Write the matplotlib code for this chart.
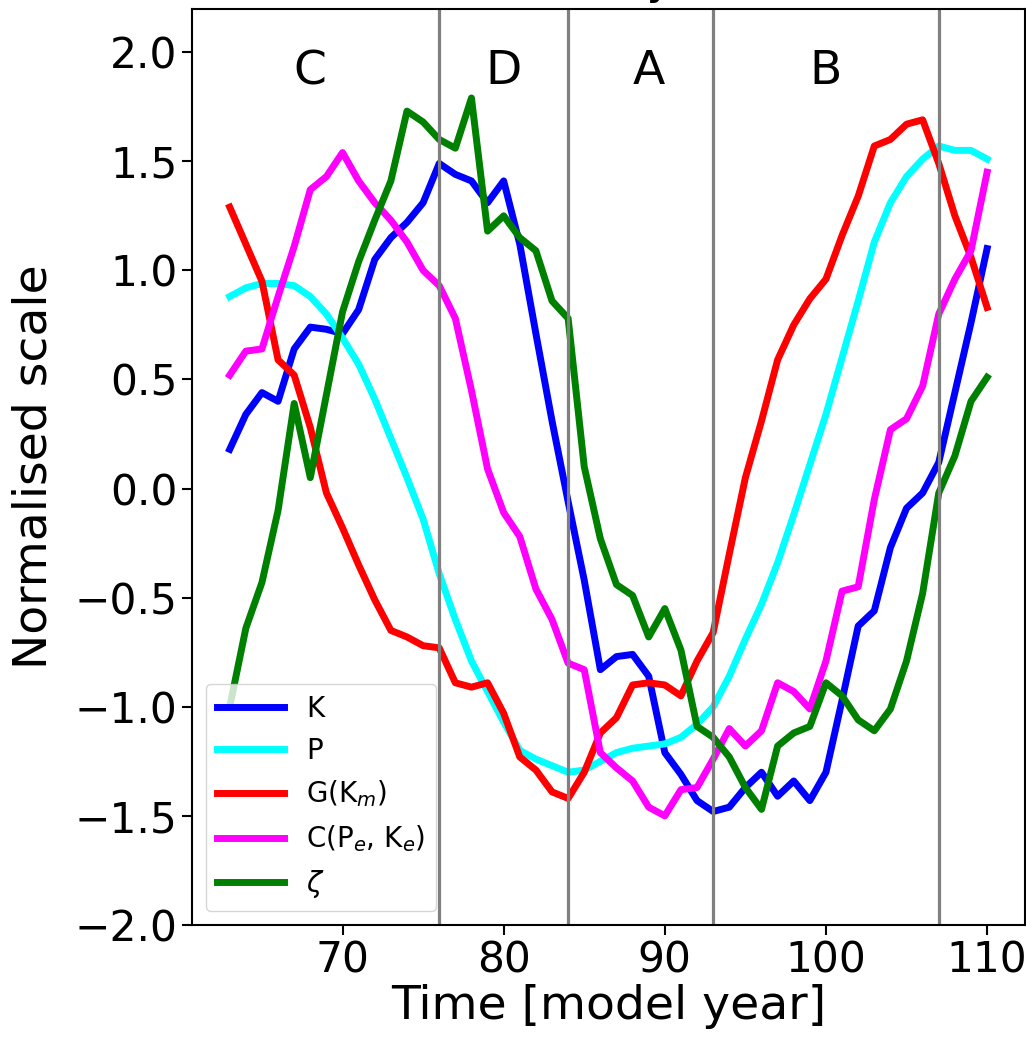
import numpy as np
import matplotlib
matplotlib.use('Agg')
import matplotlib.pyplot as plt

# model years 63..110
years = np.arange(63, 111)

K = [0.18, 0.34, 0.44, 0.40, 0.64, 0.74, 0.73, 0.71, 0.82, 1.05,
     1.15, 1.22, 1.31, 1.49, 1.44, 1.41, 1.31, 1.41, 1.12, 0.71,
     0.31, -0.06, -0.42, -0.83, -0.77, -0.76, -0.86, -1.21, -1.31, -1.43,
     -1.48, -1.46, -1.37, -1.30, -1.41, -1.34, -1.43, -1.30, -0.97, -0.63,
     -0.56, -0.27, -0.09, -0.02, 0.12, 0.44, 0.76, 1.10]

P = [0.88, 0.92, 0.94, 0.94, 0.93, 0.88, 0.80, 0.69, 0.57, 0.41,
     0.23, 0.05, -0.14, -0.39, -0.60, -0.79, -0.93, -1.07, -1.20, -1.24,
     -1.27, -1.30, -1.29, -1.25, -1.21, -1.19, -1.18, -1.17, -1.14, -1.08,
     -1.00, -0.86, -0.69, -0.53, -0.34, -0.12, 0.11, 0.34, 0.60, 0.86,
     1.13, 1.31, 1.43, 1.51, 1.57, 1.55, 1.55, 1.51]

G = [1.29, 1.12, 0.95, 0.59, 0.52, 0.28, -0.02, -0.18, -0.35, -0.51,
     -0.65, -0.68, -0.72, -0.73, -0.89, -0.91, -0.89, -1.03, -1.23, -1.29,
     -1.39, -1.42, -1.30, -1.12, -1.05, -0.90, -0.89, -0.90, -0.95, -0.79,
     -0.66, -0.30, 0.05, 0.31, 0.59, 0.75, 0.87, 0.96, 1.16, 1.34,
     1.57, 1.60, 1.67, 1.69, 1.49, 1.25, 1.06, 0.83]

C = [0.52, 0.63, 0.64, 0.88, 1.11, 1.37, 1.43, 1.54, 1.41, 1.31,
     1.23, 1.13, 1.00, 0.93, 0.78, 0.45, 0.09, -0.11, -0.22, -0.46,
     -0.60, -0.80, -0.83, -1.21, -1.28, -1.34, -1.46, -1.50, -1.38, -1.37,
     -1.24, -1.10, -1.18, -1.11, -0.89, -0.93, -1.01, -0.79, -0.47, -0.45,
     -0.05, 0.27, 0.32, 0.47, 0.80, 0.96, 1.09, 1.45]

zeta = [-1.00, -0.64, -0.43, -0.10, 0.39, 0.05, 0.43, 0.81, 1.04, 1.23,
        1.41, 1.73, 1.68, 1.60, 1.56, 1.79, 1.18, 1.25, 1.15, 1.09,
        0.86, 0.78, 0.10, -0.23, -0.44, -0.49, -0.68, -0.55, -0.74, -1.09,
        -1.14, -1.23, -1.37, -1.47, -1.18, -1.12, -1.09, -0.89, -0.95, -1.06,
        -1.11, -1.01, -0.79, -0.48, -0.02, 0.15, 0.40, 0.51]

phase_bounds = [76, 84, 93, 107]
phase_names = ['C', 'D', 'A', 'B']
phase_x = [68, 80, 89, 100]

fig = plt.figure(figsize=(10.26, 10.42), dpi=100)
ax = fig.add_axes([0.187, 0.1123, 0.812, 0.8795])

lw = 5
ax.plot(years, K, color='blue', lw=lw, label='K')
ax.plot(years, P, color='cyan', lw=lw, label='P')
ax.plot(years, G, color='red', lw=lw, label=r'G(K$_m$)')
ax.plot(years, C, color='magenta', lw=lw, label=r'C(P$_e$, K$_e$)')
ax.plot(years, zeta, color='green', lw=lw, label=r'$\zeta$')

for xb in phase_bounds:
    ax.axvline(xb, color='gray', lw=2.3)
for name, xp in zip(phase_names, phase_x):
    ax.text(xp, 1.91, name, fontsize=34, ha='center', va='center')

ax.set_ylim(-2.0, 2.2)
ax.set_yticks(np.arange(-2.0, 2.01, 0.5))
ax.tick_params(labelsize=30.5, length=7, width=1.5)
for s in ax.spines.values():
    s.set_linewidth(1.5)
ax.set_xlabel('Time [model year]', fontsize=34, labelpad=2)
ax.set_ylabel('Normalised scale', fontsize=34, labelpad=13)

# title sits mostly above the saved area, only its descender shows
ax.text(0.461, 1.0 + 14.5 / (0.8795 * 1042), 'Anomaly', transform=ax.transAxes,
        fontsize=32, ha='center', va='baseline')

ax.legend(loc='lower left', fontsize=20, handlelength=2.4)

fig.savefig('out.png', dpi=100)
